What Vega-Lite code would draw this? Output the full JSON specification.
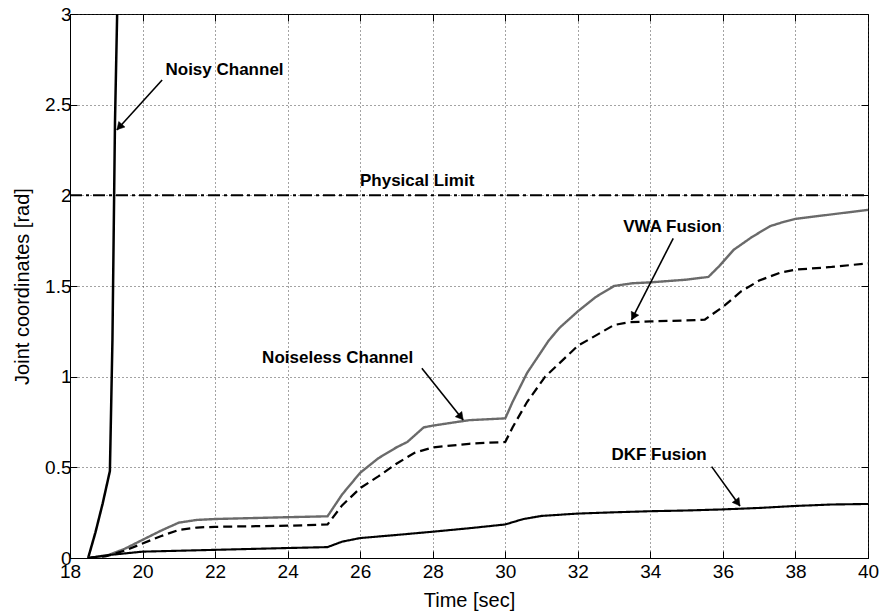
{
  "$schema": "https://vega.github.io/schema/vega-lite/v6.json",
  "autosize": "none",
  "width": 798,
  "height": 544,
  "padding": {"left": 70, "top": 14, "right": 16, "bottom": 54},
  "background": "white",
  "config": {
    "view": {"stroke": "#000000", "strokeWidth": 1},
    "font": "Liberation Sans",
    "axis": {
      "labelFont": "Liberation Sans",
      "titleFont": "Liberation Sans",
      "labelColor": "#000000",
      "titleColor": "#000000",
      "labelFontSize": 19,
      "titleFontSize": 20,
      "titleFontWeight": "normal",
      "domainColor": "#000000",
      "tickColor": "#000000",
      "gridColor": "#333333",
      "gridDash": [1, 3],
      "gridWidth": 1,
      "gridOpacity": 0.9
    }
  },
  "datasets": {
    "curves": [
      {"t": 18.5, "v": 0, "s": "Noisy Channel"},
      {"t": 18.7, "v": 0.14, "s": "Noisy Channel"},
      {"t": 18.9, "v": 0.3, "s": "Noisy Channel"},
      {"t": 19.1, "v": 0.48, "s": "Noisy Channel"},
      {"t": 19.17, "v": 1.2, "s": "Noisy Channel"},
      {"t": 19.24, "v": 2.4, "s": "Noisy Channel"},
      {"t": 19.3, "v": 3.0, "s": "Noisy Channel"},

      {"t": 18.5, "v": 0, "s": "Noiseless Channel"},
      {"t": 19, "v": 0.012, "s": "Noiseless Channel"},
      {"t": 19.5, "v": 0.05, "s": "Noiseless Channel"},
      {"t": 20, "v": 0.1, "s": "Noiseless Channel"},
      {"t": 20.5, "v": 0.15, "s": "Noiseless Channel"},
      {"t": 21, "v": 0.195, "s": "Noiseless Channel"},
      {"t": 21.5, "v": 0.21, "s": "Noiseless Channel"},
      {"t": 22, "v": 0.215, "s": "Noiseless Channel"},
      {"t": 23, "v": 0.22, "s": "Noiseless Channel"},
      {"t": 24, "v": 0.225, "s": "Noiseless Channel"},
      {"t": 25.1, "v": 0.23, "s": "Noiseless Channel"},
      {"t": 25.5, "v": 0.35, "s": "Noiseless Channel"},
      {"t": 26, "v": 0.47, "s": "Noiseless Channel"},
      {"t": 26.5, "v": 0.55, "s": "Noiseless Channel"},
      {"t": 27, "v": 0.61, "s": "Noiseless Channel"},
      {"t": 27.3, "v": 0.64, "s": "Noiseless Channel"},
      {"t": 27.75, "v": 0.72, "s": "Noiseless Channel"},
      {"t": 28, "v": 0.73, "s": "Noiseless Channel"},
      {"t": 28.5, "v": 0.745, "s": "Noiseless Channel"},
      {"t": 29, "v": 0.76, "s": "Noiseless Channel"},
      {"t": 29.5, "v": 0.765, "s": "Noiseless Channel"},
      {"t": 30, "v": 0.77, "s": "Noiseless Channel"},
      {"t": 30.2, "v": 0.86, "s": "Noiseless Channel"},
      {"t": 30.6, "v": 1.02, "s": "Noiseless Channel"},
      {"t": 31.2, "v": 1.2, "s": "Noiseless Channel"},
      {"t": 31.5, "v": 1.27, "s": "Noiseless Channel"},
      {"t": 32, "v": 1.36, "s": "Noiseless Channel"},
      {"t": 32.5, "v": 1.44, "s": "Noiseless Channel"},
      {"t": 33, "v": 1.5, "s": "Noiseless Channel"},
      {"t": 33.5, "v": 1.515, "s": "Noiseless Channel"},
      {"t": 34, "v": 1.52, "s": "Noiseless Channel"},
      {"t": 35, "v": 1.535, "s": "Noiseless Channel"},
      {"t": 35.6, "v": 1.55, "s": "Noiseless Channel"},
      {"t": 35.9, "v": 1.61, "s": "Noiseless Channel"},
      {"t": 36.3, "v": 1.7, "s": "Noiseless Channel"},
      {"t": 36.8, "v": 1.77, "s": "Noiseless Channel"},
      {"t": 37.3, "v": 1.83, "s": "Noiseless Channel"},
      {"t": 37.7, "v": 1.855, "s": "Noiseless Channel"},
      {"t": 38, "v": 1.87, "s": "Noiseless Channel"},
      {"t": 39, "v": 1.895, "s": "Noiseless Channel"},
      {"t": 40, "v": 1.92, "s": "Noiseless Channel"},

      {"t": 18.5, "v": 0, "s": "VWA Fusion"},
      {"t": 19, "v": 0.01, "s": "VWA Fusion"},
      {"t": 19.5, "v": 0.04, "s": "VWA Fusion"},
      {"t": 20, "v": 0.08, "s": "VWA Fusion"},
      {"t": 20.5, "v": 0.12, "s": "VWA Fusion"},
      {"t": 21, "v": 0.155, "s": "VWA Fusion"},
      {"t": 21.5, "v": 0.168, "s": "VWA Fusion"},
      {"t": 22, "v": 0.172, "s": "VWA Fusion"},
      {"t": 24, "v": 0.178, "s": "VWA Fusion"},
      {"t": 25.1, "v": 0.185, "s": "VWA Fusion"},
      {"t": 25.5, "v": 0.29, "s": "VWA Fusion"},
      {"t": 26, "v": 0.385, "s": "VWA Fusion"},
      {"t": 26.5, "v": 0.45, "s": "VWA Fusion"},
      {"t": 27, "v": 0.52, "s": "VWA Fusion"},
      {"t": 27.5, "v": 0.58, "s": "VWA Fusion"},
      {"t": 28, "v": 0.61, "s": "VWA Fusion"},
      {"t": 29, "v": 0.63, "s": "VWA Fusion"},
      {"t": 30, "v": 0.64, "s": "VWA Fusion"},
      {"t": 30.2, "v": 0.72, "s": "VWA Fusion"},
      {"t": 30.6, "v": 0.86, "s": "VWA Fusion"},
      {"t": 31.1, "v": 1.0, "s": "VWA Fusion"},
      {"t": 32, "v": 1.17, "s": "VWA Fusion"},
      {"t": 33, "v": 1.285, "s": "VWA Fusion"},
      {"t": 33.4, "v": 1.3, "s": "VWA Fusion"},
      {"t": 34, "v": 1.305, "s": "VWA Fusion"},
      {"t": 35, "v": 1.31, "s": "VWA Fusion"},
      {"t": 35.5, "v": 1.315, "s": "VWA Fusion"},
      {"t": 36, "v": 1.385, "s": "VWA Fusion"},
      {"t": 36.5, "v": 1.47, "s": "VWA Fusion"},
      {"t": 37, "v": 1.53, "s": "VWA Fusion"},
      {"t": 37.6, "v": 1.575, "s": "VWA Fusion"},
      {"t": 38, "v": 1.59, "s": "VWA Fusion"},
      {"t": 39, "v": 1.605, "s": "VWA Fusion"},
      {"t": 40, "v": 1.625, "s": "VWA Fusion"},

      {"t": 18.5, "v": 0, "s": "DKF Fusion"},
      {"t": 19, "v": 0.015, "s": "DKF Fusion"},
      {"t": 20, "v": 0.035, "s": "DKF Fusion"},
      {"t": 21, "v": 0.04, "s": "DKF Fusion"},
      {"t": 22, "v": 0.045, "s": "DKF Fusion"},
      {"t": 23, "v": 0.05, "s": "DKF Fusion"},
      {"t": 24, "v": 0.055, "s": "DKF Fusion"},
      {"t": 25.1, "v": 0.06, "s": "DKF Fusion"},
      {"t": 25.5, "v": 0.09, "s": "DKF Fusion"},
      {"t": 26, "v": 0.11, "s": "DKF Fusion"},
      {"t": 27, "v": 0.127, "s": "DKF Fusion"},
      {"t": 28, "v": 0.145, "s": "DKF Fusion"},
      {"t": 29, "v": 0.164, "s": "DKF Fusion"},
      {"t": 30, "v": 0.185, "s": "DKF Fusion"},
      {"t": 30.5, "v": 0.215, "s": "DKF Fusion"},
      {"t": 31, "v": 0.232, "s": "DKF Fusion"},
      {"t": 32, "v": 0.245, "s": "DKF Fusion"},
      {"t": 33, "v": 0.252, "s": "DKF Fusion"},
      {"t": 34, "v": 0.258, "s": "DKF Fusion"},
      {"t": 35, "v": 0.262, "s": "DKF Fusion"},
      {"t": 36, "v": 0.268, "s": "DKF Fusion"},
      {"t": 37, "v": 0.276, "s": "DKF Fusion"},
      {"t": 38, "v": 0.287, "s": "DKF Fusion"},
      {"t": 39, "v": 0.295, "s": "DKF Fusion"},
      {"t": 40, "v": 0.298, "s": "DKF Fusion"},

      {"t": 18, "v": 2, "s": "Physical Limit"},
      {"t": 40, "v": 2, "s": "Physical Limit"}
    ],
    "notes": [
      {"label": "Noisy Channel", "tx": 22.26, "ty": 2.69, "ax": 20.54, "ay": 2.636, "bx": 19.29, "by": 2.36, "hx": 19.362, "hy": 2.377, "ang": 222},
      {"label": "Physical Limit", "tx": 27.57, "ty": 2.08},
      {"label": "VWA Fusion", "tx": 34.61, "ty": 1.827, "ax": 34.63, "ay": 1.763, "bx": 33.48, "by": 1.313, "hx": 33.531, "hy": 1.332, "ang": 207},
      {"label": "Noiseless Channel", "tx": 25.38, "ty": 1.103, "ax": 27.7, "ay": 1.046, "bx": 28.84, "by": 0.761, "hx": 28.775, "hy": 0.778, "ang": 141},
      {"label": "DKF Fusion", "tx": 34.24, "ty": 0.568, "ax": 35.69, "ay": 0.504, "bx": 36.47, "by": 0.287, "hx": 36.409, "hy": 0.304, "ang": 144}
    ]
  },
  "resolve": {"axis": {"x": "independent", "y": "independent"}},
  "layer": [
    {
      "data": {"name": "curves"},
      "mark": {"type": "line", "clip": true},
      "encoding": {
        "x": {
          "field": "t", "type": "quantitative",
          "scale": {"domain": [18, 40], "nice": false, "zero": false},
          "axis": {
            "title": "Time [sec]", "values": [18, 20, 22, 24, 26, 28, 30, 32, 34, 36, 38, 40],
            "grid": true, "tickSize": -7, "labelPadding": 11, "titlePadding": 9,
            "labelFlush": false, "labelOverlap": false
          }
        },
        "y": {
          "field": "v", "type": "quantitative",
          "scale": {"domain": [0, 3], "nice": false},
          "axis": {
            "title": "Joint coordinates [rad]", "values": [0, 0.5, 1, 1.5, 2, 2.5, 3], "format": "~g",
            "grid": true, "tickSize": -7, "labelPadding": 6, "titlePadding": 12,
            "labelFlush": false, "labelOverlap": false
          }
        },
        "detail": {"field": "s"},
        "color": {
          "field": "s", "type": "nominal", "legend": null,
          "scale": {
            "domain": ["Noisy Channel", "Noiseless Channel", "VWA Fusion", "DKF Fusion", "Physical Limit"],
            "range": ["#000000", "#6a6a6a", "#000000", "#000000", "#000000"]
          }
        },
        "strokeDash": {
          "field": "s", "type": "nominal", "legend": null,
          "scale": {
            "domain": ["Noisy Channel", "Noiseless Channel", "VWA Fusion", "DKF Fusion", "Physical Limit"],
            "range": [[1, 0], [1, 0], [9, 5], [1, 0], [12, 4, 3, 4]]
          }
        },
        "strokeWidth": {
          "field": "s", "type": "nominal", "legend": null,
          "scale": {
            "domain": ["Noisy Channel", "Noiseless Channel", "VWA Fusion", "DKF Fusion", "Physical Limit"],
            "range": [2.5, 2, 2, 2.5, 3]
          }
        }
      }
    },
    {
      "data": {"name": "curves"},
      "mark": {"type": "point", "opacity": 0},
      "encoding": {
        "x": {"field": "t", "type": "quantitative",
          "axis": {"orient": "top", "title": null, "labels": false, "grid": false, "domain": false, "tickSize": -7,
            "values": [18, 20, 22, 24, 26, 28, 30, 32, 34, 36, 38, 40]}},
        "y": {"field": "v", "type": "quantitative",
          "axis": {"orient": "right", "title": null, "labels": false, "grid": false, "domain": false, "tickSize": -7,
            "values": [0, 0.5, 1, 1.5, 2, 2.5, 3]}}
      }
    },
    {
      "data": {"name": "notes"},
      "transform": [{"filter": "isValid(datum.ax)"}],
      "mark": {"type": "rule", "color": "#000000", "strokeWidth": 1.6},
      "encoding": {
        "x": {"field": "ax", "type": "quantitative", "axis": null},
        "y": {"field": "ay", "type": "quantitative", "axis": null},
        "x2": {"field": "bx"},
        "y2": {"field": "by"}
      }
    },
    {
      "data": {"name": "notes"},
      "transform": [{"filter": "isValid(datum.hx)"}],
      "mark": {"type": "point", "shape": "triangle-up", "filled": true, "fill": "#000000", "stroke": "#000000", "strokeWidth": 0.5, "size": 70, "opacity": 1, "fillOpacity": 1},
      "encoding": {
        "x": {"field": "hx", "type": "quantitative", "axis": null},
        "y": {"field": "hy", "type": "quantitative", "axis": null},
        "angle": {"field": "ang", "type": "quantitative", "scale": null}
      }
    },
    {
      "data": {"name": "notes"},
      "mark": {"type": "text", "font": "Liberation Sans", "fontWeight": "bold", "fontSize": 17, "color": "#000000", "align": "center", "baseline": "middle"},
      "encoding": {
        "x": {"field": "tx", "type": "quantitative", "axis": null},
        "y": {"field": "ty", "type": "quantitative", "axis": null},
        "text": {"field": "label"}
      }
    }
  ]
}
